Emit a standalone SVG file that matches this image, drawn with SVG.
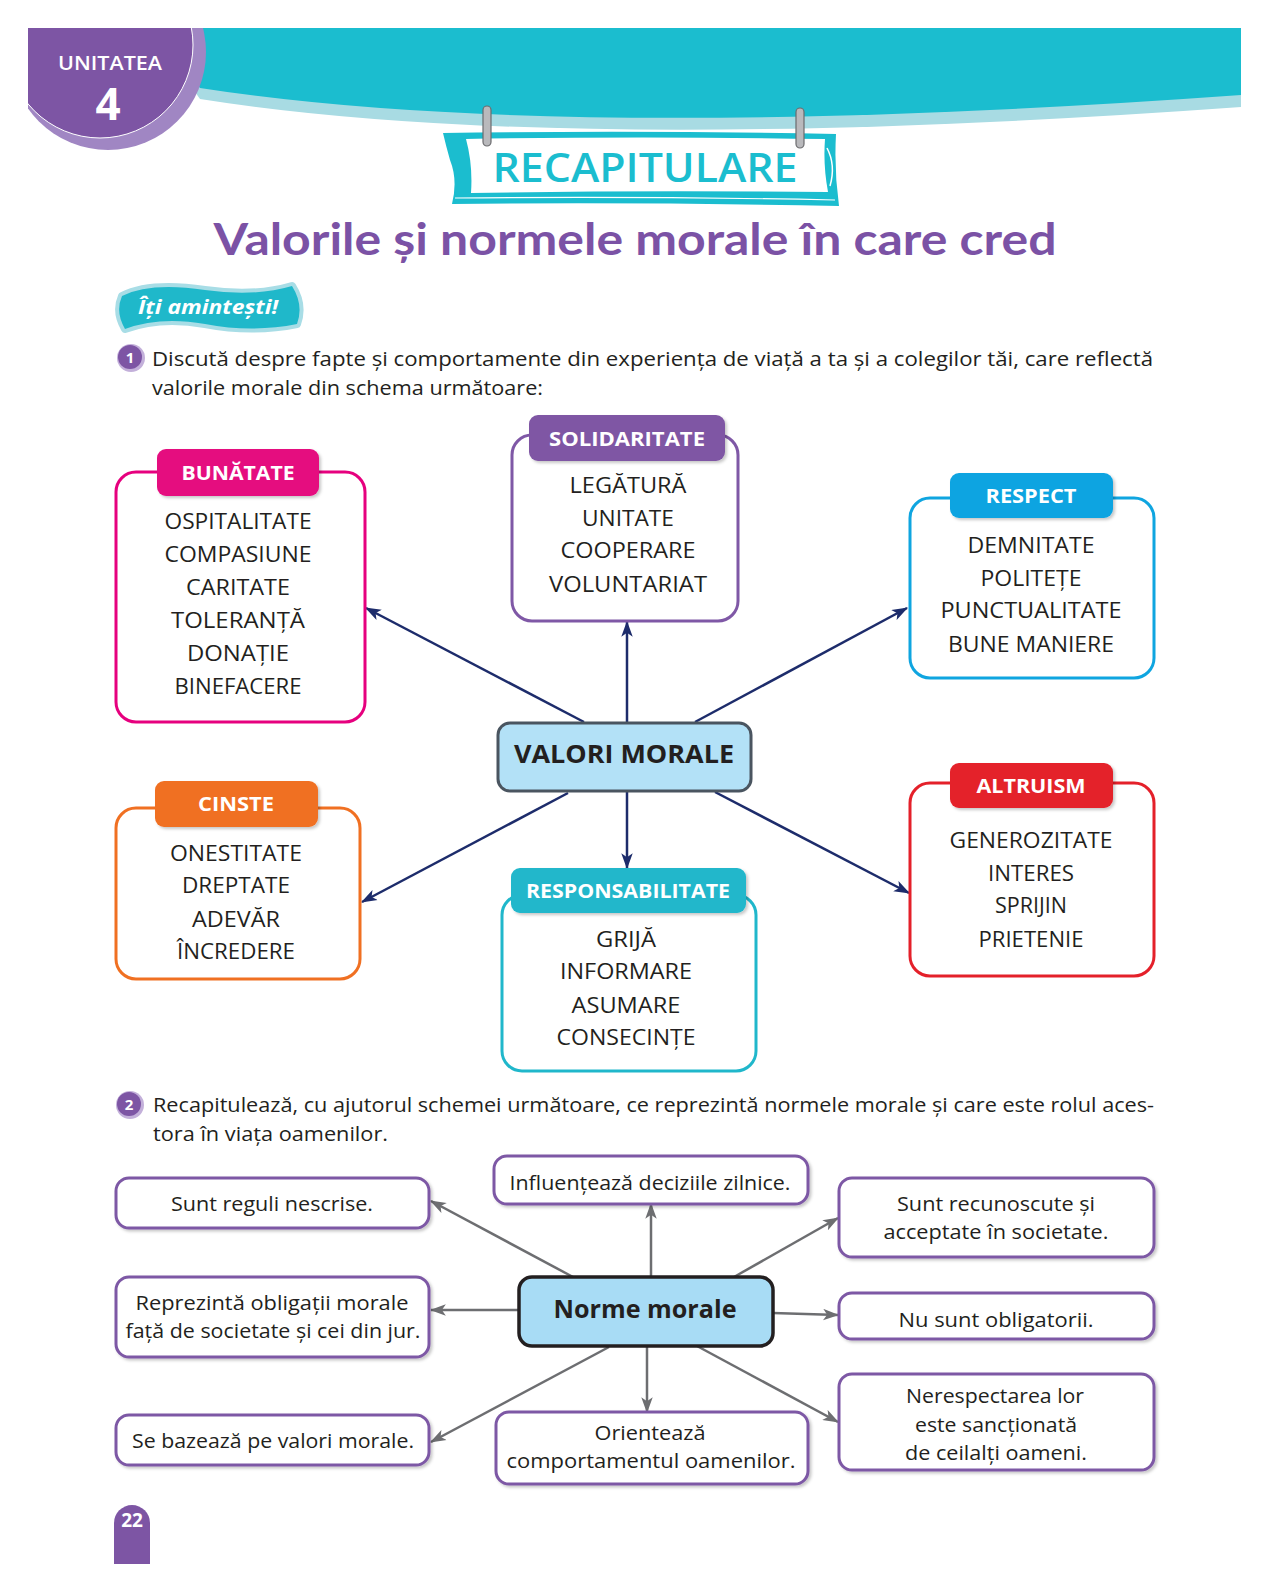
<svg xmlns="http://www.w3.org/2000/svg" width="1270" height="1594" viewBox="0 0 1270 1594">
<style>
.body{font-family:"Open Sans","Noto Sans",sans-serif;font-size:20px;fill:#231f20}
.item{font-family:"Open Sans","Noto Sans",sans-serif;font-size:22px;fill:#231f20;text-anchor:middle}
.tabt{font-family:"Open Sans","Noto Sans",sans-serif;font-size:20px;font-weight:700;fill:#fff;text-anchor:middle}
.norm{font-family:"Open Sans","Noto Sans",sans-serif;font-size:20px;fill:#231f20;text-anchor:middle}
.nbox{fill:#fff;stroke:#7d58a5;stroke-width:3}
.vbox{fill:#fff;stroke-width:3}
.navy{stroke:#1d2c6b;stroke-width:2.5;fill:none;marker-end:url(#ahNavy)}
.gray{stroke:#6d6e71;stroke-width:2.5;fill:none;marker-end:url(#ahGray)}
.qnum{font-family:"Open Sans",sans-serif;font-size:15px;font-weight:700;fill:#fff;text-anchor:middle}
</style>
<defs>
<marker id="ahNavy" viewBox="0 0 14 10" refX="13" refY="5" markerWidth="16" markerHeight="12" markerUnits="userSpaceOnUse" orient="auto"><path d="M0,0 L14,5 L0,10 L3.5,5 Z" fill="#1d2c6b"/></marker>
<marker id="ahGray" viewBox="0 0 14 10" refX="13" refY="5" markerWidth="16" markerHeight="12" markerUnits="userSpaceOnUse" orient="auto"><path d="M0,0 L14,5 L0,10 L3.5,5 Z" fill="#6d6e71"/></marker>
<filter id="sh" x="-10%" y="-10%" width="130%" height="140%"><feDropShadow dx="2" dy="2" stdDeviation="1.5" flood-color="#000" flood-opacity="0.22"/></filter>
<clipPath id="hdrClip"><rect x="28" y="28" width="1213" height="200"/></clipPath>
</defs>

<!-- Header -->
<g id="header">
  <g clip-path="url(#hdrClip)">
    <path d="M150,28 H1241 V107 Q560,156 200,99 Z" fill="#a8dbe3"/>
    <path d="M150,28 H1241 V95 Q560,144 200,88 Z" fill="#1bbdcf"/>
    <circle cx="108" cy="52" r="98" fill="#a086c3"/>
    <circle cx="100" cy="45" r="93" fill="#7d55a4" stroke="#fff" stroke-width="1"/>
  </g>
  <text x="110" y="70" style="font-family:'Open Sans',sans-serif;font-size:19px;font-weight:600;fill:#fff;text-anchor:middle" textLength="104" lengthAdjust="spacingAndGlyphs">UNITATEA</text>
  <text x="108" y="120" style="font-family:'Open Sans',sans-serif;font-size:44px;font-weight:700;fill:#fff;text-anchor:middle">4</text>
</g>

<g id="sign">
  <path d="M443,133 Q640,130 836,134 Q834,170 839,206 Q640,202 452,204 Q458,180 450,160 Q446,146 443,133 Z" fill="#1bbdcf"/>
  <path d="M466,139 Q640,136 825,139 Q823,165 828,192 Q640,190 471,193 Q473,165 466,139 Z" fill="#fff"/>
  <path d="M827,148 Q836,165 830,186" stroke="#fff" stroke-width="1.5" fill="none"/>
  <path d="M455,198 Q640,196 835,200" stroke="#fff" stroke-width="1.2" fill="none"/>
  <g>
    <rect x="483" y="106" width="8" height="40" rx="4" fill="#b9b9bc" stroke="#6b6b6e" stroke-width="1.2"/>
    <rect x="796" y="108" width="8" height="40" rx="4" fill="#b9b9bc" stroke="#6b6b6e" stroke-width="1.2"/>
  </g>
  <text x="645" y="182" style="font-family:'Open Sans',sans-serif;font-size:40px;font-weight:600;fill:#1bbdcf;text-anchor:middle" textLength="305" lengthAdjust="spacingAndGlyphs">RECAPITULARE</text>
</g>

<text id="title" x="635" y="255" style="font-family:Lato,'Open Sans',sans-serif;font-size:44px;font-weight:700;fill:#7b52a5;text-anchor:middle" textLength="843" lengthAdjust="spacingAndGlyphs">Valorile și normele morale în care cred</text>

<g id="badge">
  <path d="M122,296 Q150,282 205,290 Q255,297 292,286 Q304,305 297,324 Q252,333 205,324 Q160,316 125,329 Q115,312 122,296 Z" fill="#a8dde6" stroke="#a8dde6" stroke-width="8" stroke-linejoin="round"/>
  <path d="M122,296 Q150,282 205,290 Q255,297 292,286 Q304,305 297,324 Q252,333 205,324 Q160,316 125,329 Q115,312 122,296 Z" fill="#1fb8ca"/>
  <text x="138" y="314" style="font-family:'Open Sans',sans-serif;font-size:20px;font-weight:700;font-style:italic;fill:#fff" textLength="140" lengthAdjust="spacingAndGlyphs">Îți amintești!</text>
</g>

<g id="q1">
  <circle cx="131" cy="358" r="14" fill="#c3b0da"/>
  <circle cx="130" cy="357" r="12" fill="#7d55a4"/>
  <text class="qnum" x="130" y="362.5">1</text>
  <text class="body" x="152" y="366" textLength="1001" lengthAdjust="spacingAndGlyphs">Discută despre fapte și comportamente din experiența de viață a ta și a colegilor tăi, care reflectă</text>
  <text class="body" x="152" y="395" textLength="391" lengthAdjust="spacingAndGlyphs">valorile morale din schema următoare:</text>
</g>

<!-- Valori morale connectors -->
<g id="connectors-valori">
  <line class="navy" x1="584" y1="722" x2="366" y2="608"/>
  <line class="navy" x1="627" y1="722" x2="627" y2="622"/>
  <line class="navy" x1="695" y1="722" x2="907" y2="608"/>
  <line class="navy" x1="568" y1="793" x2="362" y2="902"/>
  <line class="navy" x1="627" y1="791" x2="627" y2="868"/>
  <line class="navy" x1="715" y1="792" x2="909" y2="893"/>
</g>

<g id="bunatate">
  <rect class="vbox" x="116" y="472" width="249" height="250" rx="20" stroke="#e6007e"/>
  <rect x="157" y="449" width="162" height="47" rx="9" fill="#e5097f" filter="url(#sh)"/>
  <text class="tabt" x="238" y="480" textLength="113" lengthAdjust="spacingAndGlyphs">BUNĂTATE</text>
  <text class="item" x="238" y="529" textLength="147" lengthAdjust="spacingAndGlyphs">OSPITALITATE</text>
  <text class="item" x="238" y="562" textLength="147" lengthAdjust="spacingAndGlyphs">COMPASIUNE</text>
  <text class="item" x="238" y="595" textLength="104" lengthAdjust="spacingAndGlyphs">CARITATE</text>
  <text class="item" x="238" y="628" textLength="134" lengthAdjust="spacingAndGlyphs">TOLERANȚĂ</text>
  <text class="item" x="238" y="661" textLength="102" lengthAdjust="spacingAndGlyphs">DONAȚIE</text>
  <text class="item" x="238" y="694" textLength="127" lengthAdjust="spacingAndGlyphs">BINEFACERE</text>
</g>

<g id="solidaritate">
  <rect class="vbox" x="512" y="435" width="226" height="186" rx="20" stroke="#7f58a6"/>
  <rect x="529" y="415" width="196" height="46" rx="9" fill="#7f56a4" filter="url(#sh)"/>
  <text class="tabt" x="627" y="446" textLength="156" lengthAdjust="spacingAndGlyphs">SOLIDARITATE</text>
  <text class="item" x="628" y="493" textLength="117" lengthAdjust="spacingAndGlyphs">LEGĂTURĂ</text>
  <text class="item" x="628" y="526" textLength="92" lengthAdjust="spacingAndGlyphs">UNITATE</text>
  <text class="item" x="628" y="558" textLength="135" lengthAdjust="spacingAndGlyphs">COOPERARE</text>
  <text class="item" x="628" y="592" textLength="158" lengthAdjust="spacingAndGlyphs">VOLUNTARIAT</text>
</g>

<g id="respect">
  <rect class="vbox" x="910" y="498" width="244" height="180" rx="20" stroke="#0fa5e0"/>
  <rect x="950" y="473" width="163" height="45" rx="9" fill="#0ea4e1" filter="url(#sh)"/>
  <text class="tabt" x="1031" y="503" textLength="91" lengthAdjust="spacingAndGlyphs">RESPECT</text>
  <text class="item" x="1031" y="553" textLength="127" lengthAdjust="spacingAndGlyphs">DEMNITATE</text>
  <text class="item" x="1031" y="586" textLength="101" lengthAdjust="spacingAndGlyphs">POLITEȚE</text>
  <text class="item" x="1031" y="618" textLength="181" lengthAdjust="spacingAndGlyphs">PUNCTUALITATE</text>
  <text class="item" x="1031" y="652" textLength="166" lengthAdjust="spacingAndGlyphs">BUNE MANIERE</text>
</g>

<g id="valori-morale">
  <rect x="498" y="723" width="253" height="68" rx="12" fill="#b3e1f7" stroke="#4a5560" stroke-width="3"/>
  <text x="624" y="763" style="font-family:'Open Sans',sans-serif;font-size:25px;font-weight:700;fill:#231f20;text-anchor:middle" textLength="220" lengthAdjust="spacingAndGlyphs">VALORI MORALE</text>
</g>

<g id="cinste">
  <rect class="vbox" x="116" y="808" width="244" height="171" rx="20" stroke="#f07022"/>
  <rect x="155" y="781" width="163" height="46" rx="9" fill="#f07022" filter="url(#sh)"/>
  <text class="tabt" x="236" y="811" textLength="76" lengthAdjust="spacingAndGlyphs">CINSTE</text>
  <text class="item" x="236" y="861" textLength="132" lengthAdjust="spacingAndGlyphs">ONESTITATE</text>
  <text class="item" x="236" y="893" textLength="108" lengthAdjust="spacingAndGlyphs">DREPTATE</text>
  <text class="item" x="236" y="927" textLength="88" lengthAdjust="spacingAndGlyphs">ADEVĂR</text>
  <text class="item" x="236" y="959" textLength="118" lengthAdjust="spacingAndGlyphs">ÎNCREDERE</text>
</g>

<g id="responsabilitate">
  <rect class="vbox" x="502" y="895" width="254" height="176" rx="20" stroke="#20b7cb"/>
  <rect x="511" y="868" width="235" height="45" rx="9" fill="#20b7cb" filter="url(#sh)"/>
  <text class="tabt" x="628" y="898" textLength="204" lengthAdjust="spacingAndGlyphs">RESPONSABILITATE</text>
  <text class="item" x="626" y="947" textLength="60" lengthAdjust="spacingAndGlyphs">GRIJĂ</text>
  <text class="item" x="626" y="979" textLength="132" lengthAdjust="spacingAndGlyphs">INFORMARE</text>
  <text class="item" x="626" y="1013" textLength="109" lengthAdjust="spacingAndGlyphs">ASUMARE</text>
  <text class="item" x="626" y="1045" textLength="139" lengthAdjust="spacingAndGlyphs">CONSECINȚE</text>
</g>

<g id="altruism">
  <rect class="vbox" x="910" y="783" width="244" height="193" rx="20" stroke="#e4202a"/>
  <rect x="950" y="763" width="163" height="45" rx="9" fill="#e4202a" filter="url(#sh)"/>
  <text class="tabt" x="1031" y="793" textLength="109" lengthAdjust="spacingAndGlyphs">ALTRUISM</text>
  <text class="item" x="1031" y="848" textLength="163" lengthAdjust="spacingAndGlyphs">GENEROZITATE</text>
  <text class="item" x="1031" y="881" textLength="86" lengthAdjust="spacingAndGlyphs">INTERES</text>
  <text class="item" x="1031" y="913" textLength="72" lengthAdjust="spacingAndGlyphs">SPRIJIN</text>
  <text class="item" x="1031" y="947" textLength="105" lengthAdjust="spacingAndGlyphs">PRIETENIE</text>
</g>

<g id="q2">
  <circle cx="130" cy="1105" r="14" fill="#c3b0da"/>
  <circle cx="129" cy="1104" r="12" fill="#7d55a4"/>
  <text class="qnum" x="129" y="1109.5">2</text>
  <text class="body" x="153" y="1112" textLength="1001" lengthAdjust="spacingAndGlyphs">Recapitulează, cu ajutorul schemei următoare, ce reprezintă normele morale și care este rolul aces-</text>
  <text class="body" x="153" y="1141" textLength="235" lengthAdjust="spacingAndGlyphs">tora în viața oamenilor.</text>
</g>

<!-- Norme morale connectors -->
<g id="connectors-norme">
  <line class="gray" x1="573" y1="1277" x2="431" y2="1201"/>
  <line class="gray" x1="519" y1="1310" x2="431" y2="1310"/>
  <line class="gray" x1="609" y1="1347" x2="431" y2="1442"/>
  <line class="gray" x1="651" y1="1277" x2="651" y2="1204"/>
  <line class="gray" x1="647" y1="1346" x2="647" y2="1412"/>
  <line class="gray" x1="734" y1="1277" x2="838" y2="1218"/>
  <line class="gray" x1="773" y1="1313" x2="838" y2="1315"/>
  <line class="gray" x1="697" y1="1346" x2="838" y2="1422"/>
</g>

<g id="n-reguli">
  <rect class="nbox" x="116" y="1178" width="313" height="50" rx="13" filter="url(#sh)"/>
  <text class="norm" x="272" y="1211" textLength="202" lengthAdjust="spacingAndGlyphs">Sunt reguli nescrise.</text>
</g>
<g id="n-obligatii">
  <rect class="nbox" x="116" y="1277" width="313" height="80" rx="13" filter="url(#sh)"/>
  <text class="norm" x="272" y="1310" textLength="273" lengthAdjust="spacingAndGlyphs">Reprezintă obligații morale</text>
  <text class="norm" x="273" y="1338" textLength="295" lengthAdjust="spacingAndGlyphs">față de societate și cei din jur.</text>
</g>
<g id="n-valori">
  <rect class="nbox" x="116" y="1415" width="313" height="50" rx="13" filter="url(#sh)"/>
  <text class="norm" x="273" y="1448" textLength="282" lengthAdjust="spacingAndGlyphs">Se bazează pe valori morale.</text>
</g>
<g id="n-decizii">
  <rect class="nbox" x="494" y="1156" width="314" height="48" rx="13" filter="url(#sh)"/>
  <text class="norm" x="650" y="1190" textLength="281" lengthAdjust="spacingAndGlyphs">Influențează deciziile zilnice.</text>
</g>
<g id="n-orienteaza">
  <rect class="nbox" x="496" y="1412" width="312" height="72" rx="13" filter="url(#sh)"/>
  <text class="norm" x="650" y="1440" textLength="111" lengthAdjust="spacingAndGlyphs">Orientează</text>
  <text class="norm" x="651" y="1468" textLength="289" lengthAdjust="spacingAndGlyphs">comportamentul oamenilor.</text>
</g>
<g id="n-recunoscute">
  <rect class="nbox" x="839" y="1178" width="315" height="79" rx="13" filter="url(#sh)"/>
  <text class="norm" x="996" y="1211" textLength="198" lengthAdjust="spacingAndGlyphs">Sunt recunoscute și</text>
  <text class="norm" x="996" y="1239" textLength="225" lengthAdjust="spacingAndGlyphs">acceptate în societate.</text>
</g>
<g id="n-obligatorii">
  <rect class="nbox" x="839" y="1293" width="315" height="46" rx="13" filter="url(#sh)"/>
  <text class="norm" x="996" y="1327" textLength="195" lengthAdjust="spacingAndGlyphs">Nu sunt obligatorii.</text>
</g>
<g id="n-sanctionata">
  <rect class="nbox" x="839" y="1374" width="315" height="96" rx="13" filter="url(#sh)"/>
  <text class="norm" x="995" y="1403" textLength="178" lengthAdjust="spacingAndGlyphs">Nerespectarea lor</text>
  <text class="norm" x="996" y="1432" textLength="162" lengthAdjust="spacingAndGlyphs">este sancționată</text>
  <text class="norm" x="996" y="1460" textLength="182" lengthAdjust="spacingAndGlyphs">de ceilalți oameni.</text>
</g>
<g id="norme-morale">
  <rect x="519" y="1277" width="254" height="69" rx="13" fill="#a8dcf5" stroke="#231f20" stroke-width="3.5"/>
  <text x="645" y="1318" style="font-family:'Open Sans',sans-serif;font-size:25px;font-weight:700;fill:#231f20;text-anchor:middle" textLength="183" lengthAdjust="spacingAndGlyphs">Norme morale</text>
</g>

<g id="page-number">
  <path d="M114,1564 V1523 A18,18 0 0 1 150,1523 V1564 Z" fill="#7d55a4"/>
  <text x="132" y="1527" style="font-family:'Open Sans',sans-serif;font-size:19px;font-weight:700;fill:#fff;text-anchor:middle">22</text>
</g>
</svg>
